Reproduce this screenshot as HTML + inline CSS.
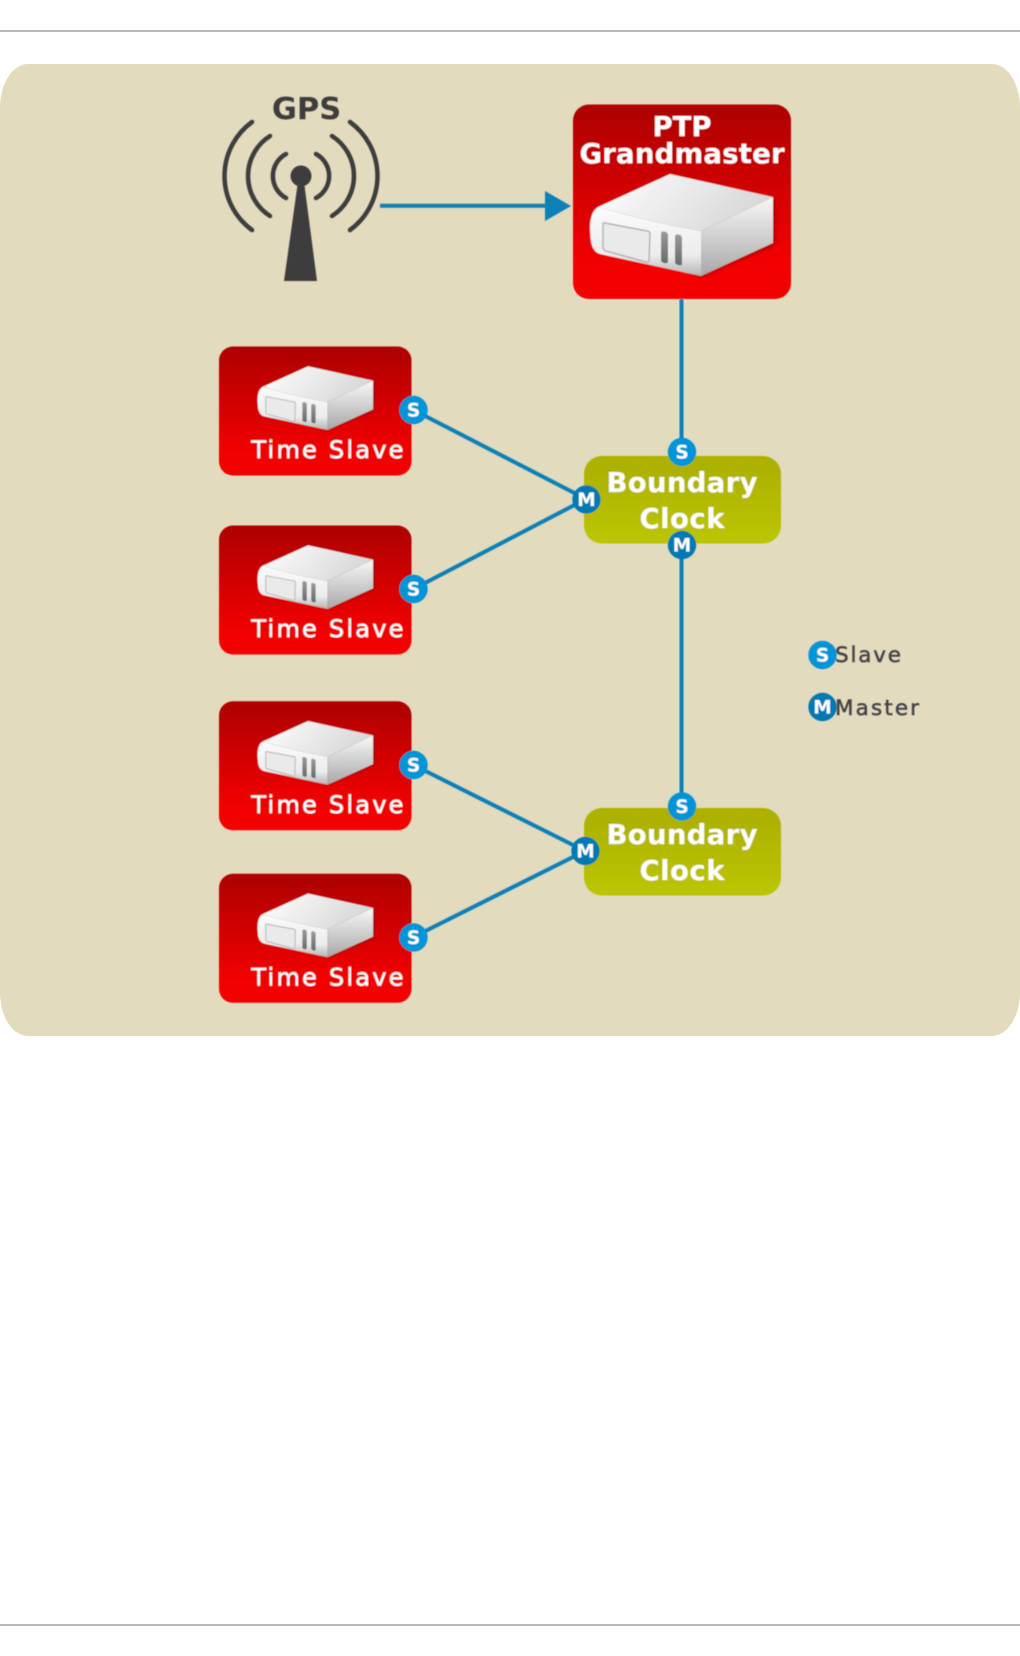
<!DOCTYPE html>
<html><head><meta charset="utf-8"><style>
html,body{margin:0;padding:0;background:#fff}
svg{display:block}
text{font-family:"DejaVu Sans","Liberation Sans",sans-serif}
.t{fill:#fff;font-weight:bold;font-size:27.5px;text-anchor:middle}
.s{fill:#fff;font-size:24px}
.l{fill:#444;font-size:21.5px}
.b{fill:#fff;font-weight:bold;font-size:18.500px;text-anchor:middle}
</style></head><body>
<svg width="1020" height="1656" viewBox="0 0 1020 1656" xmlns="http://www.w3.org/2000/svg">
<defs>
<linearGradient id="red" x1="0" y1="0" x2="0" y2="1"><stop offset="0.05" stop-color="#b10000"/><stop offset="0.82" stop-color="#f30000"/></linearGradient>
<linearGradient id="yel" x1="0" y1="0" x2="0" y2="1"><stop offset="0.15" stop-color="#adb200"/><stop offset="1" stop-color="#bcc600"/></linearGradient>
<linearGradient id="top" x1="0" y1="0" x2="1" y2="0.3"><stop offset="0" stop-color="#ffffff"/><stop offset="1" stop-color="#d8d8d8"/></linearGradient>
<linearGradient id="left" x1="0" y1="0" x2="0" y2="1"><stop offset="0" stop-color="#fbfbfb"/><stop offset="0.7" stop-color="#ececec"/><stop offset="1" stop-color="#b4b4b4"/></linearGradient>
<linearGradient id="right" x1="0" y1="0" x2="0" y2="1"><stop offset="0" stop-color="#f8f8f8"/><stop offset="1" stop-color="#a8a8a8"/></linearGradient>
<linearGradient id="slot" x1="0" y1="0" x2="0" y2="1"><stop offset="0" stop-color="#9a9a9a"/><stop offset="1" stop-color="#666c66"/></linearGradient>
<filter id="blur" x="-10%" y="-10%" width="120%" height="130%"><feGaussianBlur stdDeviation="1.500"/></filter>
<filter id="soft" filterUnits="userSpaceOnUse" x="0" y="0" width="1020" height="1656"><feGaussianBlur stdDeviation="0.450"/></filter>
<g id="srv">
<path d="M8 36L110 104L185 71L185 26L80 2Z" fill="#5a0000" opacity=".4" filter="url(#blur)"/>
<path d="M80 0L183 23L111 57Q60 48 8 33Z" fill="url(#top)"/>
<path d="M8 33Q60 48 111 57L111 102L10 80Q3 78 1 68Q-1 52 1 44Q3 36 8 33Z" fill="url(#left)"/>
<path d="M111 57L183 23L183 69L111 102Z" fill="url(#right)"/>
<path d="M15 49Q13 48 13 50L13 73Q13 76 16 77L56 88Q59 89 59 86L60 60Q60 57 57 57Z" fill="#eaeaea" stroke="#b2b2b2" stroke-width="1.500"/>
<path d="M71 60Q71 57 74 57.500Q78 58 78 61L78 87Q78 90 74 89Q71 88 71 86Z" fill="url(#slot)"/>
<path d="M85 63Q85 60 88 60.500Q92 61 92 64L92 90Q92 92 88 91Q85 90 85 88Z" fill="url(#slot)"/>
</g>
<g id="sl">
<rect x="0" y="0" width="192.500" height="129" rx="14" ry="14" fill="url(#red)"/>
<use href="#srv" transform="translate(38.500,19.700) scale(.632,.625)"/>
<text class="s" x="32.400" y="111.500" textLength="152" lengthAdjust="spacing" stroke="#fff" stroke-width=".4">Time Slave</text>
</g>
<g id="bc">
<rect x="0" y="0" width="197" height="87.500" rx="18" ry="18" fill="url(#yel)"/>
<text class="t" x="98" y="36" textLength="151" lengthAdjust="spacing">Boundary</text>
<text class="t" x="98" y="72" textLength="85" lengthAdjust="spacing">Clock</text>
</g>
<g id="S"><circle r="14.200" fill="#0094d8"/><text class="b" y="6.500">S</text></g>
<g id="M"><circle r="14.200" fill="#007ab5"/><text class="b" y="6.500">M</text></g>
</defs>

<rect x="0" y="30" width="1020" height="2" fill="#b9b9b9"/>
<rect x="0" y="1624" width="1020" height="2" fill="#b9b9b9"/>
<path d="M28 64H992A28 44 0 0 1 1020 108V992A28 44 0 0 1 992 1036H28A28 44 0 0 1 0 992V108A28 44 0 0 1 28 64Z" fill="#e3dbbe"/>

<g filter="url(#soft)">
<!-- connectors -->
<g stroke="#0a80b8" stroke-width="4" fill="none">
<path d="M380 205.700H548"/>
<path d="M681.500 299V452"/>
<path d="M681.500 545V808"/>
<path d="M413.500 410L586 499L413.500 589"/>
<path d="M413.500 765L585 851L413.500 937"/>
</g>
<path d="M545 191L571 206L545 221Z" fill="#0a80b8"/>

<!-- GPS -->
<text x="306.500" y="119" text-anchor="middle" font-size="30.500" font-weight="bold" fill="#3c3c3c">GPS</text>
<g fill="none" stroke="#3c3c3c" stroke-width="4.500" stroke-linecap="round">
<path d="M252 122A66.800 66.800 0 0 0 252 230"/>
<path d="M350 122A66.800 66.800 0 0 1 350 230"/>
<path d="M270 136A47.400 47.400 0 0 0 270 216"/>
<path d="M332 136A47.400 47.400 0 0 1 332 216"/>
<path d="M286 154A25 25 0 0 0 286 198"/>
<path d="M316 154A25 25 0 0 1 316 198"/>
</g>
<circle cx="301" cy="176" r="10.500" fill="#3c3c3c"/>
<path d="M298.500 178H303.500L317 281H284Z" fill="#3c3c3c"/>

<!-- Grandmaster -->
<rect x="573" y="104.500" width="218" height="194.500" rx="16" ry="16" fill="url(#red)"/>
<text class="t" x="682" y="136">PTP</text>
<text class="t" x="682" y="163" textLength="205" lengthAdjust="spacing">Grandmaster</text>
<use href="#srv" transform="translate(590,174)"/>

<!-- Slaves -->
<use href="#sl" transform="translate(219,346.500)"/>
<use href="#sl" transform="translate(219,525.500)"/>
<use href="#sl" transform="translate(219,701.300)"/>
<use href="#sl" transform="translate(219,873.800)"/>

<!-- Boundary clocks -->
<use href="#bc" transform="translate(584,456)"/>
<use href="#bc" transform="translate(584,808)"/>

<!-- ports -->
<use href="#S" x="682" y="452"/>
<use href="#M" x="682" y="545"/>
<use href="#M" x="586.500" y="499.500"/>
<use href="#S" x="413.500" y="410"/>
<use href="#S" x="413.500" y="589"/>
<use href="#S" x="682" y="806.500"/>
<use href="#M" x="585.500" y="851"/>
<use href="#S" x="413.500" y="765"/>
<use href="#S" x="413.500" y="937.500"/>

<!-- legend -->
<use href="#S" x="822.500" y="655"/>
<use href="#M" x="822.500" y="707"/>
<text class="l" x="835" y="662" textLength="66" lengthAdjust="spacing" stroke="#444" stroke-width=".5">Slave</text>
<text class="l" x="835" y="715" textLength="84" lengthAdjust="spacing" stroke="#444" stroke-width=".5">Master</text>
</g>
</svg>
</body></html>
